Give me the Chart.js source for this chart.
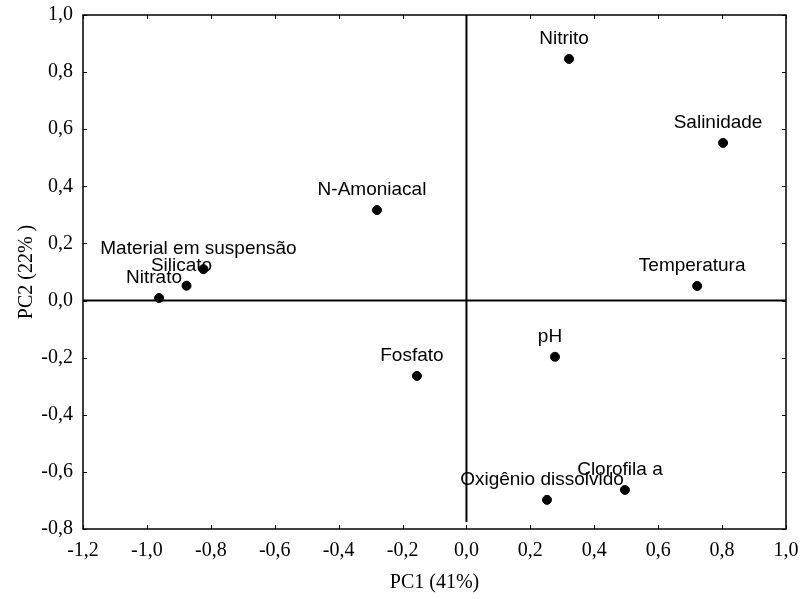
<!DOCTYPE html>
<html>
<head>
<meta charset="utf-8">
<script src="https://cdn.jsdelivr.net/npm/chart.js@4.4.1/dist/chart.umd.min.js"></script>
<style>
html,body{margin:0;padding:0;background:#fff;}
#wrap{width:801px;height:599px;position:relative;}
</style>
</head>
<body>
<div id="wrap"><canvas id="c" width="801" height="599"></canvas></div>
<script>
const variables = ["Nitrito","Salinidade","N-Amoniacal","Material em suspensão","Silicato","Nitrato","Temperatura","pH","Fosfato","Clorofila a","Oxigênio dissolvido"];
const pc1 = [0.321, 0.803, -0.280, -0.823, -0.876, -0.962, 0.722, 0.277, -0.155, 0.496, 0.252];
const pc2 = [0.846, 0.552, 0.317, 0.110, 0.052, 0.009, 0.051, -0.197, -0.264, -0.663, -0.698];
const xTitle = "PC1 (41%)";
const yTitle = "PC2 (22% )";

const points = variables.map((v, i) => ({x: pc1[i], y: pc2[i], label: v}));
const fmt = v => { if (Math.abs(v) < 1e-9) v = 0; return v.toFixed(1).replace('.', ','); };
const serif = '"Liberation Serif", "Times New Roman", serif';

const decor = {
  id: 'decor',
  beforeDatasetsDraw(chart) {
    const ctx = chart.ctx, a = chart.chartArea;
    const xs = chart.scales.x, ys = chart.scales.y;
    ctx.save();
    ctx.strokeStyle = '#000';
    ctx.lineWidth = 1.5;
    ctx.strokeRect(a.left, a.top, a.right - a.left, a.bottom - a.top);
    const tl = 4;
    ctx.lineWidth = 1;
    ctx.beginPath();
    xs.ticks.forEach(t => {
      const px = Math.round(xs.getPixelForValue(t.value)) + 0.5;
      ctx.moveTo(px, a.bottom); ctx.lineTo(px, a.bottom - tl);
      ctx.moveTo(px, a.top); ctx.lineTo(px, a.top + tl);
    });
    ys.ticks.forEach(t => {
      const py = Math.round(ys.getPixelForValue(t.value)) + 0.5;
      ctx.moveTo(a.left, py); ctx.lineTo(a.left + tl, py);
      ctx.moveTo(a.right, py); ctx.lineTo(a.right - tl, py);
    });
    ctx.stroke();
    ctx.lineWidth = 2;
    ctx.beginPath();
    const y0 = ys.getPixelForValue(0), x0 = xs.getPixelForValue(0);
    ctx.moveTo(a.left, y0); ctx.lineTo(a.right, y0);
    ctx.moveTo(x0, a.top); ctx.lineTo(x0, a.bottom - 7);
    ctx.stroke();
    ctx.restore();
  },
  afterDatasetsDraw(chart) {
    const ctx = chart.ctx;
    const meta = chart.getDatasetMeta(0);
    ctx.save();
    ctx.fillStyle = '#000';
    ctx.font = '19px "Liberation Sans", Arial, sans-serif';
    ctx.textAlign = 'center';
    ctx.textBaseline = 'middle';
    meta.data.forEach((el, i) => {
      ctx.fillText(points[i].label, el.x - 5, el.y - 20);
    });
    ctx.restore();
  }
};

new Chart(document.getElementById('c'), {
  type: 'scatter',
  data: {
    datasets: [{
      data: points,
      backgroundColor: '#000',
      borderColor: '#000',
      pointRadius: 4.5,
      pointHoverRadius: 4.5
    }]
  },
  options: {
    responsive: false,
    animation: false,
    events: [],
    layout: {padding: {left: 0, top: 15, right: 15, bottom: 0}},
    plugins: {legend: {display: false}, tooltip: {enabled: false}},
    scales: {
      x: {
        type: 'linear', min: -1.2, max: 1.0,
        afterFit: s => { s.height = 70; s.paddingLeft = 0; s.paddingRight = 0; },
        grid: {display: false, drawTicks: false},
        border: {display: false},
        ticks: {stepSize: 0.2, padding: 10, color: '#000', maxRotation: 0,
          font: {family: serif, size: 20},
          callback: v => fmt(v)},
        title: {display: true, text: xTitle, color: '#000',
          font: {family: serif, size: 20},
          padding: {top: 0, bottom: 4}}
      },
      y: {
        type: 'linear', min: -0.8, max: 1.0,
        afterFit: s => { s.width = 83; s.paddingTop = 0; s.paddingBottom = 0; },
        grid: {display: false, drawTicks: false},
        border: {display: false},
        ticks: {stepSize: 0.2, padding: 10, color: '#000',
          font: {family: serif, size: 20},
          callback: v => fmt(v)},
        title: {display: true, text: yTitle, color: '#000',
          font: {family: serif, size: 20},
          padding: {top: 15, bottom: 0}}
      }
    }
  },
  plugins: [decor]
});
</script>
</body>
</html>
